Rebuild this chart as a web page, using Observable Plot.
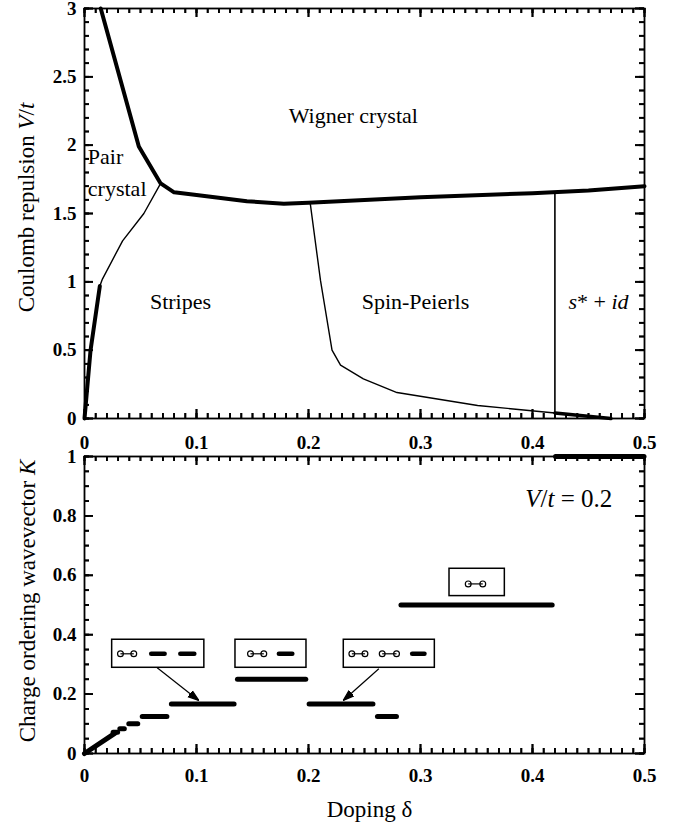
<!DOCTYPE html>
<html><head><meta charset="utf-8">
<script src="https://cdn.jsdelivr.net/npm/d3@7"></script>
<script src="https://cdn.jsdelivr.net/npm/@observablehq/plot@0.6"></script>
<style>
body{margin:0;background:#fff;}
#chart{position:relative;width:684px;height:825px;background:#fff;}
#chart svg{position:absolute;left:0;display:block;overflow:visible;}
#chart svg text{font-family:'Liberation Serif','Times New Roman',Times,serif;}
</style></head><body><div id="chart"></div>
<script>
// ---------- TOP PANEL: phase boundaries (doping δ vs V/t) ----------
const wignerX = [0.0145,0.0485,0.068,0.08,0.1,0.145,0.178,0.2,0.3,0.4,0.45,0.5];
const wignerV = [3.0,1.99,1.72,1.655,1.635,1.59,1.572,1.578,1.619,1.649,1.668,1.70];
const stripeThickX = [0,0.0054,0.0137];
const stripeThickV = [0,0.5,0.97];
const pairStripeX = [0.0137,0.016,0.034,0.053,0.068];
const pairStripeV = [0.97,1.02,1.30,1.50,1.72];
const spinPeierlsX = [0.2015,0.2107,0.221,0.2286,0.249,0.279,0.351,0.42];
const spinPeierlsV = [1.578,1.01,0.5,0.39,0.29,0.19,0.095,0.04];
const sidBottomX = [0.42,0.47];
const sidBottomV = [0.04,0.0];
const sidEdgeX = [0.42,0.42];
const sidEdgeV = [0.04,1.651];

const phaseNames = ["Wigner crystal","Pair","crystal","Stripes","Spin-Peierls","s* + id"];
const phaseX = [0.240,0.003,0.003,0.0857,0.2955,0.459];
const phaseV = [2.217,1.912,1.68,0.851,0.851,0.851];
const phaseAlign = ["middle","start","start","middle","middle","middle"];

// ---------- BOTTOM PANEL: charge ordering wavevector K at V/t = 0.2 ----------
const rampX = [0,0.027];
const rampK = [0,0.068];
const stepK    = [1/14, 1/12, 1/10, 1/8,  1/6,  1/4,  1/6,  1/8,  1/2,  1];
const stepFrom = [0.026,0.032,0.040,0.052,0.078,0.137,0.201,0.262,0.283,0.421];
const stepTo   = [0.030,0.036,0.048,0.074,0.134,0.198,0.258,0.279,0.418,0.5];

// inset boxes (data units)
const boxX1 = [0.0247,0.1348,0.2315,0.3259];
const boxX2 = [0.107,0.1982,0.3128,0.3753];
const boxK1 = [0.2886,0.2886,0.2886,0.530];
const boxK2 = [0.383,0.383,0.383,0.622];
// dimers (pairs of circles) inside boxes
const dimerL = [0.0321,0.1482,0.2387,0.2658,0.3426];
const dimerR = [0.0440,0.1601,0.2504,0.2786,0.3556];
const dimerK = [0.3357,0.3357,0.3357,0.3357,0.571];
// holes (dashes) inside boxes
const holeFrom = [0.0600,0.0860,0.1740,0.2930];
const holeTo   = [0.0720,0.0985,0.1860,0.3040];
const holeK    = [0.3357,0.3357,0.3357,0.3357];
// arrows
const arrowX1 = [0.0649,0.2628], arrowK1 = [0.2886,0.2852];
const arrowX2 = [0.1020,0.2310], arrowK2 = [0.1785,0.1785];

// ticks
const xMajor = [0,0.1,0.2,0.3,0.4,0.5];
const vMajor = [0,0.5,1,1.5,2,2.5,3];
const kMajor = [0,0.2,0.4,0.6,0.8,1];
const xMinor = d3.range(0,51).map(i=>i/100);
const vMinor = d3.range(0,31).map(i=>i/10);
const kMinor = d3.range(0,21).map(i=>i/20);

const FONT = "'Liberation Serif','Times New Roman',Times,serif";
const zip = (xs, ys) => xs.map((x,i)=>({x, y: ys[i]}));

// inward ticks on all four sides; W,H = frame size in px
function inTicks(xMaj, xMin, yMaj, yMin, W, H) {
  const o = {stroke:"black", strokeWidth:1.8};
  const m = [];
  for (const [arr, len] of [[xMin,5],[xMaj,9]]) {
    m.push(Plot.tickX(arr, {...o, x:d=>d, insetTop:H-len}));
    m.push(Plot.tickX(arr, {...o, x:d=>d, insetBottom:H-len}));
  }
  for (const [arr, len] of [[yMin,5],[yMaj,9]]) {
    m.push(Plot.tickY(arr, {...o, y:d=>d, insetRight:W-len}));
    m.push(Plot.tickY(arr, {...o, y:d=>d, insetLeft:W-len}));
  }
  return m;
}
// same ticks as rules, lengths converted through the scale extents
function ruleTicks(xMaj, xMin, yMaj, yMin, xDom, yDom, W, H) {
  const o = {stroke:"black", strokeWidth:1.8};
  const sx = (xDom[1]-xDom[0])/W, sy = (yDom[1]-yDom[0])/H;
  const m = [];
  for (const [arr, len] of [[xMin,5],[xMaj,9]]) {
    m.push(Plot.ruleX(arr, {...o, x:d=>d, y1:yDom[0], y2:yDom[0]+len*sy}));
    m.push(Plot.ruleX(arr, {...o, x:d=>d, y1:yDom[1]-len*sy, y2:yDom[1]}));
  }
  for (const [arr, len] of [[yMin,5],[yMaj,9]]) {
    m.push(Plot.ruleY(arr, {...o, y:d=>d, x1:xDom[0], x2:xDom[0]+len*sx}));
    m.push(Plot.ruleY(arr, {...o, y:d=>d, x1:xDom[1]-len*sx, x2:xDom[1]}));
  }
  return m;
}
function tickLabels(xMaj, yMaj, padX) {
  const o = {tickSize:0, label:null, fontSize:19, fontWeight:"bold", fontFamily:FONT, fill:"black", tickFormat:d=>String(d)};
  return [
    Plot.axisX(xMaj, {...o, anchor:"bottom", tickPadding:padX}),
    Plot.axisY(yMaj, {...o, anchor:"left", tickPadding:8})
  ];
}
function filledHead(color) {
  const m = d3.create("svg:marker")
    .attr("viewBox","-10 -5 10 10")
    .attr("markerUnits","userSpaceOnUse")
    .attr("markerWidth",11).attr("markerHeight",11)
    .attr("refX",0).attr("refY",0)
    .attr("orient","auto")
    .attr("fill",color);
  m.append("path").attr("d","M-10,-3.3L0,0L-10,3.3Z");
  return m.node();
}
function richText(svg, full, parts) {
  svg.querySelectorAll("text").forEach(t => {
    if (t.textContent === full) {
      t.textContent = "";
      for (const [s, it] of parts) {
        const ts = document.createElementNS("http://www.w3.org/2000/svg","tspan");
        ts.textContent = s;
        if (it) ts.setAttribute("font-style","italic");
        t.appendChild(ts);
      }
    }
  });
}

// ---------- TOP PLOT ----------
const phases = phaseNames.map((n,i)=>({n, x:phaseX[i], y:phaseV[i], a:phaseAlign[i]}));
const topPlot = Plot.plot({
  width: 684, height: 450,
  marginLeft: 84, marginRight: 40, marginTop: 8, marginBottom: 32,
  x: {domain:[0,0.5], axis:null},
  y: {domain:[0,3], axis:null},
  style: {fontFamily: FONT, background:"white", overflow:"visible"},
  marks: [
    Plot.line(zip(pairStripeX, pairStripeV), {x:"x", y:"y", stroke:"black", strokeWidth:1.4}),
    Plot.line(zip(spinPeierlsX, spinPeierlsV), {x:"x", y:"y", stroke:"black", strokeWidth:1.4}),
    Plot.line(zip(sidEdgeX, sidEdgeV), {x:"x", y:"y", stroke:"black", strokeWidth:1.6}),
    Plot.line(zip(wignerX, wignerV), {x:"x", y:"y", stroke:"black", strokeWidth:4, strokeLinejoin:"round"}),
    Plot.line(zip(stripeThickX, stripeThickV), {x:"x", y:"y", stroke:"black", strokeWidth:4, strokeLinejoin:"round"}),
    Plot.line(zip(sidBottomX, sidBottomV), {x:"x", y:"y", stroke:"black", strokeWidth:3.5}),
    Plot.frame({stroke:"black", strokeWidth:1.8}),
    Plot.text(phases.filter(d=>d.a==="middle"),
      {x:"x", y:"y", text:"n", fontSize:22, fontFamily:FONT, fill:"black"}),
    Plot.text(phases.filter(d=>d.a==="start"),
      {x:"x", y:"y", text:"n", fontSize:22, fontFamily:FONT, fill:"black", textAnchor:"start"}),
    ...tickLabels(xMajor, vMajor, 17),
    Plot.text(["Coulomb repulsion V/t"], {frameAnchor:"left", textAnchor:"middle", lineAnchor:"middle", dx:-58, dy:-6, rotate:-90, text:d=>d, fontSize:23, fontFamily:FONT, fill:"black"}),
    ...inTicks(xMajor, xMinor, vMajor, vMinor, 560, 410),
    ...ruleTicks(xMajor, xMinor, vMajor, vMinor, [0,0.5], [0,3], 560, 410)
  ]
});
topPlot.style.top = "0px";
richText(topPlot, "Coulomb repulsion V/t", [["Coulomb repulsion ",false],["V",true],["/",false],["t",true]]);
richText(topPlot, "s* + id", [["s",true],["* + ",false],["id",true]]);

// ---------- BOTTOM PLOT ----------
const steps = stepK.map((k,i)=>({k, from:stepFrom[i], to:stepTo[i]}));
const boxes = boxX1.map((x1,i)=>({x1, x2:boxX2[i], y1:boxK1[i], y2:boxK2[i]}));
const dimers = dimerL.map((l,i)=>({l, r:dimerR[i], k:dimerK[i]}));
const circles = dimers.flatMap(d=>[{x:d.l, k:d.k},{x:d.r, k:d.k}]);
const holes = holeFrom.map((f,i)=>({f, t:holeTo[i], k:holeK[i]}));
const arrows = arrowX1.map((x1,i)=>({x1, y1:arrowK1[i], x2:arrowX2[i], y2:arrowK2[i]}));

const bottomPlot = Plot.plot({
  width: 684, height: 375,
  marginLeft: 84, marginRight: 40, marginTop: 6, marginBottom: 72,
  x: {domain:[0,0.5], axis:null},
  y: {domain:[0,1], axis:null},
  style: {fontFamily: FONT, background:"transparent", overflow:"visible"},
  marks: [
    Plot.frame({stroke:"black", strokeWidth:1.8}),
    Plot.line(zip(rampX, rampK), {x:"x", y:"y", stroke:"black", strokeWidth:5, strokeLinecap:"round"}),
    Plot.ruleY(steps, {y:"k", x1:"from", x2:"to", stroke:"black", strokeWidth:5, strokeLinecap:"round"}),
    Plot.link(arrows, {x1:"x1", y1:"y1", x2:"x2", y2:"y2", stroke:"black", strokeWidth:1.2, markerEnd:filledHead}),
    Plot.rect(boxes, {x1:"x1", x2:"x2", y1:"y1", y2:"y2", fill:"white", stroke:"black", strokeWidth:1.5}),
    Plot.link(dimers, {x1:"l", x2:"r", y1:"k", y2:"k", stroke:"black", strokeWidth:1.2}),
    Plot.dot(circles, {x:"x", y:"k", r:2.9, stroke:"black", strokeWidth:1.2, fill:"none"}),
    Plot.ruleY(holes, {y:"k", x1:"f", x2:"t", stroke:"black", strokeWidth:4.5, strokeLinecap:"round"}),
    Plot.text(["V/t = 0.2"], {x:0.4324, y:0.8576, text:d=>d, fontSize:25, fontFamily:FONT, fill:"black"}),
    ...tickLabels(xMajor, kMajor, 15),
    Plot.text(["Charge ordering wavevector K"], {frameAnchor:"left", textAnchor:"middle", lineAnchor:"middle", dx:-57, dy:-4, rotate:-90, text:d=>d, fontSize:23, fontFamily:FONT, fill:"black"}),
    Plot.text(["Doping δ"], {frameAnchor:"bottom", textAnchor:"middle", lineAnchor:"middle", dx:5, dy:56, text:d=>d, fontSize:23, fontFamily:FONT, fill:"black"}),
    ...inTicks(xMajor, xMinor, kMajor, kMinor, 560, 297),
    ...ruleTicks(xMajor, xMinor, kMajor, kMinor, [0,0.5], [0,1], 560, 297)
  ]
});
bottomPlot.style.top = "450px";
richText(bottomPlot, "V/t = 0.2", [["V",true],["/",false],["t",true],[" = 0.2",false]]);
richText(bottomPlot, "Charge ordering wavevector K", [["Charge ordering wavevector ",false],["K",true]]);

document.getElementById("chart").append(topPlot, bottomPlot);
</script></body></html>
